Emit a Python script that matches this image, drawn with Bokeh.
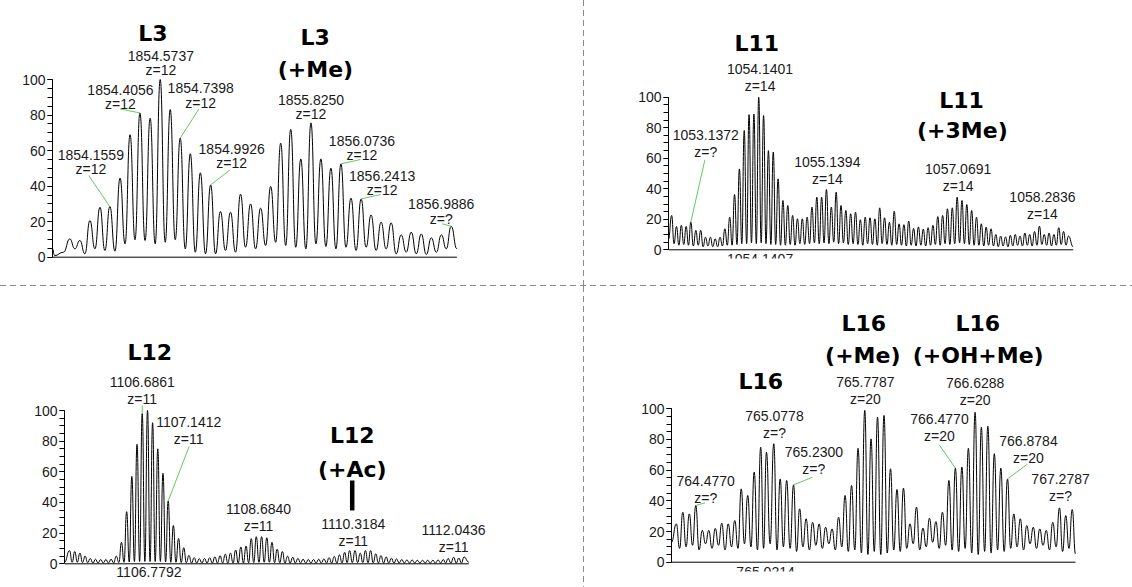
from bokeh.plotting import figure
from bokeh.layouts import column, row
from bokeh.models import Div, Range1d, FixedTicker
from bokeh.core.properties import value
from bokeh.embed import file_html
from bokeh.resources import INLINE

# ---------------- L3 peptide, z = 12 ----------------
l3_window = (1853.680, 1857.036)
l3_mz = [1853.8237, 1853.9070, 1853.9904, 1854.0737, 1854.1559, 1854.2404, 1854.3237, 1854.4056,
         1854.4904, 1854.5737, 1854.6570, 1854.7398, 1854.8237, 1854.9070, 1854.9926, 1855.0737,
         1855.1570, 1855.2404, 1855.3237, 1855.4070, 1855.4904, 1855.5737, 1855.6570, 1855.7404,
         1855.8250, 1855.9070, 1855.9904, 1856.0736, 1856.1570, 1856.2413, 1856.3237, 1856.4070,
         1856.4904, 1856.5737, 1856.6570, 1856.7404, 1856.8237, 1856.9070, 1856.9886]
l3_int = [10.3, 9.4, 20.6, 28.1, 28.5, 44.5, 68.9, 81.2, 78.2, 100.0,
          83.1, 67.0, 58.2, 47.5, 40.7, 25.7, 25.3, 35.5, 30.0, 27.6,
          39.8, 64.2, 71.9, 55.3, 75.6, 55.3, 50.1, 52.5, 33.2, 32.8,
          23.8, 19.7, 19.3, 12.6, 14.1, 13.1, 10.9, 12.6, 17.4]
l3_valley = [4.7, 1.9, 4.7, 3.8, 3.4, 7.5, 9.8, 9.4, 7.5, 8.4,
             9.8, 4.7, 2.8, 1.9, 1.9, 3.8, 2.8, 5.6, 4.7, 6.6,
             8.4, 6.6, 5.6, 4.7, 7.5, 6.0, 4.7, 5.6, 3.8, 5.6,
             3.8, 4.7, 1.9, 2.8, 1.9, 1.5, 2.8, 4.7]
l3_lead_mz = [1853.680, 1853.697, 1853.771]
l3_lead_int = [4.7, 0.9, 2.8]
l3_tail_mz = [1857.036]
l3_tail_int = [4.7]
l3_tags = [1854.1559, 1854.4056, 1854.5737, 1854.7398, 1854.9926,
           1855.8250, 1856.0736, 1856.2413, 1856.9886]
l3_charge = ["12", "12", "12", "12", "12", "12", "12", "12", "?"]

# ---------------- L11 peptide, z = 14 ----------------
l11_window = (1052.808, 1058.782)
l11_mz = [1052.8544, 1052.9258, 1052.9972, 1053.0687, 1053.1372, 1053.2115, 1053.2830, 1053.3544, 1053.4258, 1053.4972,
          1053.5687, 1053.6401, 1053.7115, 1053.7830, 1053.8544, 1053.9258, 1053.9972, 1054.0687, 1054.1401, 1054.2115,
          1054.2830, 1054.3544, 1054.4258, 1054.4972, 1054.5687, 1054.6401, 1054.7115, 1054.7830, 1054.8544, 1054.9258,
          1054.9972, 1055.0687, 1055.1394, 1055.2115, 1055.2830, 1055.3544, 1055.4258, 1055.4972, 1055.5687, 1055.6401,
          1055.7115, 1055.7830, 1055.8544, 1055.9258, 1055.9972, 1056.0687, 1056.1401, 1056.2115, 1056.2830, 1056.3544,
          1056.4258, 1056.4972, 1056.5687, 1056.6401, 1056.7115, 1056.7830, 1056.8544, 1056.9258, 1056.9972, 1057.0691,
          1057.1401, 1057.2115, 1057.2830, 1057.3544, 1057.4258, 1057.4972, 1057.5687, 1057.6401, 1057.7115, 1057.7830,
          1057.8544, 1057.9258, 1057.9972, 1058.0687, 1058.1401, 1058.2115, 1058.2836, 1058.3544, 1058.4258, 1058.4972,
          1058.5687, 1058.6401, 1058.7115]
l11_int = [22.5, 15.3, 16.0, 15.3, 18.1, 12.7, 12.7, 8.3, 8.3, 7.2,
           8.3, 13.8, 21.4, 36.2, 53.0, 78.2, 88.6, 89.0, 100.0, 88.0,
           65.0, 64.0, 46.5, 32.3, 29.0, 22.5, 20.3, 20.3, 21.4, 28.0,
           34.5, 34.5, 39.5, 28.0, 37.8, 29.0, 25.8, 23.6, 24.7, 19.7,
           21.4, 21.0, 20.3, 27.5, 21.0, 18.0, 25.3, 17.0, 16.5, 18.8,
           14.0, 15.0, 13.5, 14.5, 16.0, 21.8, 22.5, 26.9, 27.5, 34.5,
           32.3, 29.7, 25.8, 21.4, 17.0, 14.8, 13.8, 10.0, 9.0, 8.5,
           9.5, 10.0, 9.0, 11.0, 10.0, 12.0, 15.5, 10.0, 11.0, 10.0,
           14.5, 12.0, 9.0]
l11_valley = [4, 3, 3.5, 3, 2.5, 3, 2, 2.5, 2, 2,
              2.5, 3, 3, 3.5, 4, 4, 4.5, 4, 4.5, 4,
              3.5, 3.5, 3, 3, 3.5, 3, 4, 3.5, 4, 4.5,
              4, 4.5, 4, 5, 4, 4.5, 3.5, 4, 3.5, 3,
              4, 3.5, 3, 4, 3.5, 3, 3.5, 3, 2.5, 3,
              2.5, 3, 2.5, 3, 3.5, 3, 4, 3.5, 4, 4.5,
              4, 3.5, 3, 3, 2.5, 3, 2.5, 2, 2.5, 2,
              2.5, 3, 2.5, 3, 2.5, 3, 3.5, 3, 2.5, 3,
              3.5, 3]
l11_lead_mz = [1052.808]
l11_lead_int = [7.0]
l11_tail_mz = [1058.782]
l11_tail_int = [2.0]
l11_tags = [1053.1372, 1054.1401, 1055.1394, 1057.0691, 1058.2836]
l11_charge = ["?", "14", "14", "14", "14"]

# ---------------- L12 peptide, z = 11 ----------------
l12_window = (1105.325, 1112.406)
l12_mz = [1105.4134, 1105.5043, 1105.5952, 1105.6861, 1105.7770, 1105.8679, 1105.9588, 1106.0497, 1106.1406, 1106.2316,
          1106.3225, 1106.4134, 1106.5043, 1106.5952, 1106.6861, 1106.7792, 1106.8679, 1106.9588, 1107.0497, 1107.1412,
          1107.2316, 1107.3225, 1107.4134, 1107.5043, 1107.5952, 1107.6861, 1107.7770, 1107.8679, 1107.9588, 1108.0497,
          1108.1406, 1108.2316, 1108.3225, 1108.4134, 1108.5043, 1108.5952, 1108.6840, 1108.7770, 1108.8679, 1108.9588,
          1109.0497, 1109.1406, 1109.2316, 1109.3225, 1109.4134, 1109.5043, 1109.5952, 1109.6861, 1109.7770, 1109.8679,
          1109.9588, 1110.0497, 1110.1406, 1110.2316, 1110.3184, 1110.4134, 1110.5043, 1110.5952, 1110.6861, 1110.7770,
          1110.8679, 1110.9588, 1111.0497, 1111.1406, 1111.2316, 1111.3225, 1111.4134, 1111.5043, 1111.5952, 1111.6861,
          1111.7770, 1111.8679, 1111.9588, 1112.0436, 1112.1406, 1112.2316, 1112.3225]
l12_int = [8.6, 8.0, 7.0, 5.0, 3.5, 3.0, 2.8, 2.8, 3.0, 5.0,
           14.0, 34.0, 57.0, 78.0, 98.0, 100.0, 92.0, 75.0, 59.0, 41.0,
           25.0, 16.5, 10.5, 5.5, 4.0, 3.3, 3.5, 4.0, 4.5, 5.3,
           6.3, 7.0, 9.0, 11.0, 11.5, 16.5, 17.7, 17.7, 17.0, 14.0,
           9.5, 8.0, 5.0, 4.3, 3.5, 3.0, 2.8, 2.8, 3.0, 3.2,
           4.0, 4.8, 5.8, 7.5, 8.6, 8.6, 7.0, 8.6, 8.6, 6.5,
           5.4, 4.5, 3.7, 3.2, 2.8, 2.5, 2.5, 2.3, 2.3, 2.3,
           2.3, 2.5, 2.8, 3.5, 4.3, 3.8, 4.5]
l12_valley = [1.0, 1.0, 0.8, 0.7, 0.5, 0.5, 0.5, 0.5, 0.5, 0.8,
              1.0, 1.2, 1.5, 1.5, 1.5, 1.5, 1.5, 1.5, 1.2, 1.0,
              1.0, 0.8, 0.7, 0.5, 0.5, 0.5, 0.5, 0.5, 0.5, 0.5,
              0.5, 0.5, 0.5, 0.5, 0.7, 0.8, 1.0, 1.0, 1.0, 0.8,
              0.7, 0.5, 0.5, 0.5, 0.5, 0.5, 0.5, 0.5, 0.5, 0.5,
              0.5, 0.5, 0.6, 0.7, 0.8, 0.8, 0.8, 0.7, 0.6, 0.5,
              0.5, 0.5, 0.5, 0.5, 0.5, 0.5, 0.5, 0.5, 0.5, 0.5,
              0.5, 0.5, 0.5, 0.5, 0.5, 0.5]
l12_lead_mz = [1105.325]
l12_lead_int = [1.0]
l12_tail_mz = [1112.406]
l12_tail_int = [1.0]
l12_tags = [1106.6861, 1107.1412, 1108.6840, 1110.3184, 1112.0436]
l12_charge = ["11", "11", "11", "11", "11"]
l12_ac_mark = (1110.364, 34.8, 54.3)

# ---------------- L16 peptide, z = 20 ----------------
l16_window = (764.2898, 767.4023)
l16_mz = [764.3270, 764.3770, 764.4270, 764.4770, 764.5270, 764.5770, 764.6270, 764.6770, 764.7270, 764.7770,
          764.8270, 764.8770, 764.9270, 764.9770, 765.0214, 765.0778, 765.1270, 765.1770, 765.2300, 765.2770,
          765.3270, 765.3770, 765.4270, 765.4770, 765.5270, 765.5770, 765.6270, 765.6770, 765.7270, 765.7787,
          765.8270, 765.8770, 765.9270, 765.9770, 766.0270, 766.0770, 766.1270, 766.1770, 766.2270, 766.2770,
          766.3270, 766.3770, 766.4270, 766.4770, 766.5270, 766.5770, 766.6288, 766.6770, 766.7270, 766.7770,
          766.8270, 766.8784, 766.9270, 766.9770, 767.0270, 767.0770, 767.1270, 767.1770, 767.2270, 767.2787,
          767.3270, 767.3770]
l16_int = [25.0, 32.6, 31.5, 37.0, 20.7, 20.7, 22.0, 25.4, 25.0, 27.2,
           47.8, 43.5, 58.7, 75.0, 71.7, 77.2, 54.3, 53.3, 50.4, 34.8,
           28.3, 26.0, 25.0, 22.8, 21.7, 29.3, 43.5, 50.0, 74.3, 99.0,
           80.4, 94.6, 95.7, 60.9, 47.4, 48.3, 25.0, 35.9, 22.2, 28.7,
           26.5, 32.6, 53.3, 61.3, 62.0, 74.3, 97.8, 88.0, 88.7, 70.7,
           61.3, 54.3, 31.5, 28.3, 23.9, 22.8, 21.7, 20.7, 26.0, 35.4,
           30.4, 34.3]
l16_valley = [9, 10, 11, 8, 12, 9, 11, 8, 10, 9,
              12, 10, 8, 9, 12, 8, 10, 9, 7, 10,
              8, 11, 9, 12, 8, 10, 7, 8, 6, 5,
              7, 5, 6, 8, 7, 9, 12, 8, 10, 13,
              9, 11, 8, 7, 9, 6, 5, 7, 6, 8,
              7, 9, 10, 8, 12, 9, 11, 8, 10, 7,
              9]
l16_lead_mz = [764.2898]
l16_lead_int = [13.0]
l16_tail_mz = [767.4023]
l16_tail_int = [5.4]
l16_tags = [764.4770, 765.0778, 765.2300, 765.7787, 766.4770, 766.6288, 766.8784, 767.2787]
l16_charge = ["?", "?", "?", "20", "20", "20", "20", "?"]

# ---------------- styling ----------------
LABEL_FONT = "Liberation Sans"
LABEL_SIZE = "14px"
TICK_SIZE = "14px"
TITLE_FONT = "DejaVu Sans"
TITLE_SIZE = "22px"
TEXT_COLOR = "#1a1a1a"
LEADER_COLOR = "#62c962"
DASH_COLOR = "#8a8a8a"


def build_profile(lead_mz, lead_int, mz, inten, valley, tail_mz, tail_int):
    xs, ys = list(lead_mz), list(lead_int)
    for i, (m, v) in enumerate(zip(mz, inten)):
        xs.append(m)
        ys.append(v)
        if i < len(valley):
            xs.append((m + mz[i + 1]) / 2.0)
            ys.append(valley[i])
    xs += list(tail_mz)
    ys += list(tail_int)
    return xs, ys


def make_panel(frame, window, profile, peaks, tags, charges, tag_pos, line_gap,
               titles, bottom_tags=(), cut_px=None):
    # frame: cell width/height, left border, bottom border, px from frame
    # bottom to the baseline, px for 0..100 %, px length of the m/z axis
    w, h, left, bottom, base_px, h100, axis_len = frame
    lo, hi = window
    ppx = axis_len / (hi - lo)
    ppy = h100 / 100.0
    frame_w = w - left
    frame_h = h - bottom
    x_end = lo + frame_w / ppx
    y_start = -base_px / ppy
    p = figure(width=w, height=h,
               x_range=Range1d(lo, x_end),
               y_range=Range1d(y_start, (frame_h - base_px) / ppy),
               output_backend="svg", toolbar_location=None,
               x_axis_location=None, y_axis_location="left",
               min_border_left=left, min_border_right=0,
               min_border_top=0, min_border_bottom=bottom)
    p.grid.visible = False
    p.outline_line_color = None
    p.background_fill_color = "white"
    p.border_fill_color = "white"

    ax = p.yaxis[0]
    ax.ticker = FixedTicker(ticks=[0, 20, 40, 60, 80, 100],
                            minor_ticks=list(range(0, 101, 5)))
    ax.bounds = (0, 100)
    ax.axis_line_color = "black"
    ax.major_tick_line_color = "black"
    ax.minor_tick_line_color = "black"
    ax.major_tick_in = 0
    ax.major_tick_out = 5
    ax.minor_tick_in = 0
    ax.minor_tick_out = 5
    ax.major_label_standoff = 2
    ax.major_label_text_font = LABEL_FONT
    ax.major_label_text_font_size = TICK_SIZE
    ax.major_label_text_color = TEXT_COLOR

    # m/z axis line
    p.line([lo, hi], [0, 0], line_color="black", line_width=1)

    # profile trace, smooth between apex and valley points
    xs, ys = profile
    mids = [(a + b) / 2.0 for a, b in zip(xs[:-1], xs[1:])]
    p.bezier(x0=xs[:-1], y0=ys[:-1], x1=xs[1:], y1=ys[1:],
             cx0=mids, cy0=ys[:-1], cx1=mids, cy1=ys[1:],
             line_color="black", line_width=1)

    mz, inten = peaks
    tx, ty, t1, t2, dxs, dys, dys2 = [], [], [], [], [], [], []
    lx0, ly0, lx1, ly1 = [], [], [], []
    for tag, zc, pos in zip(tags, charges, tag_pos):
        v = inten[mz.index(tag)]
        dx, dy = pos[0], pos[1]
        tx.append(tag)
        ty.append(v)
        t1.append(f"{tag:.4f}")
        t2.append(f"z={zc}")
        dxs.append(dx)
        dys.append(dy)
        dys2.append(dy + line_gap)
        if len(pos) > 2:
            lx0.append(tag)
            ly0.append(v)
            lx1.append(tag + pos[2] / ppx)
            ly1.append(v - pos[3] / ppy)
    if lx0:
        p.segment(x0=lx0, y0=ly0, x1=lx1, y1=ly1, line_color=LEADER_COLOR, line_width=1)
    for txt, offs in ((t1, dys), (t2, dys2)):
        p.text(x=tx, y=ty, text=txt, x_offset=dxs, y_offset=offs,
               text_align="center", text_baseline="middle",
               text_font=value(LABEL_FONT), text_font_size=value(LABEL_SIZE),
               text_color=TEXT_COLOR)

    for tag, dx, dy in bottom_tags:
        p.text(x=[tag], y=[0], text=[f"{tag:.4f}"], x_offset=dx, y_offset=dy,
               text_align="center", text_baseline="middle",
               text_font=value(LABEL_FONT), text_font_size=value(LABEL_SIZE),
               text_color=TEXT_COLOR)

    # white band that trims the panel below the given px under the baseline
    if cut_px is not None:
        p.quad(left=[lo - 1], right=[x_end + 1], bottom=[y_start - 1], top=[-cut_px / ppy],
               fill_color="white", line_color=None, level="overlay")

    for txt, x, y in titles:
        p.text(x=[x], y=[y], text=[txt], text_align="center",
               text_baseline="alphabetic", text_font=value(TITLE_FONT),
               text_font_size=value(TITLE_SIZE), text_font_style="bold",
               text_color="black")
    return p


# L3 panel
p1 = make_panel(
    (583, 285, 52, 27, 1.3, 177.7, 404.4), l3_window,
    build_profile(l3_lead_mz, l3_lead_int, l3_mz, l3_int, l3_valley, l3_tail_mz, l3_tail_int),
    (l3_mz, l3_int), l3_tags, l3_charge,
    [(-19, -52, -21, -31), (-19.5, -23, -20, -4), (0.7, -24), (20.5, -50, 18.5, -29),
     (21, -36, 19.4, -15), (0, -23), (21, -23.4, 19.4, -4.4), (21, -23.4, 19.4, -4.4),
     (-10, -22, -9.2, -2.5)],
    14.5,
    [("L3", 1854.5139, 126.0), ("L3", 1855.8600, 123.8), ("(+Me)", 1855.8625, 105.8)])

# L11 panel
p2 = make_panel(
    (548, 285, 84, 27, 8.7, 152.6, 404.7), l11_window,
    build_profile(l11_lead_mz, l11_lead_int, l11_mz, l11_int, l11_valley, l11_tail_mz, l11_tail_int),
    (l11_mz, l11_int), l11_tags, l11_charge,
    [(15, -86.7, 14.1, -62.4), (1.3, -28.4), (0.9, -28), (1, -28.4), (3, -29)],
    17,
    [("L11", 1054.1106, 135.0), ("L11", 1057.1342, 97.8), ("(+3Me)", 1057.1460, 78.0)],
    bottom_tags=[(1054.1407, 1.3, 9.2)])

# L12 panel
p3 = make_panel(
    (583, 301, 64, 0, 23.7, 153.3, 404.3), l12_window,
    build_profile(l12_lead_mz, l12_lead_int, l12_mz, l12_int, l12_valley, l12_tail_mz, l12_tail_int),
    (l12_mz, l12_int), l12_tags, l12_charge,
    [(0, -31.3, 0, -8), (20.5, -78.7, 20.9, -54.4), (2.2, -27.9), (3.7, -26.8), (5.5, -28.7)],
    17,
    [("L12", 1106.8174, 137.6), ("L12", 1110.3638, 83.6), ("(+Ac)", 1110.3640, 61.7)],
    bottom_tags=[(1106.7792, 1.4, 8.4)])
p3.segment(x0=[l12_ac_mark[0]], y0=[l12_ac_mark[1]], x1=[l12_ac_mark[0]], y1=[l12_ac_mark[2]],
           line_color="black", line_width=4.5)

# L16 panel
p4 = make_panel(
    (548, 301, 87, 0, 25.3, 153.4, 404.0), l16_window,
    build_profile(l16_lead_mz, l16_lead_int, l16_mz, l16_int, l16_valley, l16_tail_mz, l16_tail_int),
    (l16_mz, l16_int), l16_tags, l16_charge,
    [(9.9, -24, 9.2, -2.6), (0.7, -27.3), (20.3, -32.7, 18.9, -7.7), (0.6, -28),
     (-15.9, -48.7, -16.2, -23.4), (0, -29), (21, -37.7, 19.4, -14.4), (1.1, -29)],
    17,
    [("L16", 764.9770, 118.0), ("L16", 765.7705, 155.4), ("(+Me)", 765.7636, 134.6),
     ("L16", 766.6488, 155.4), ("(+OH+Me)", 766.6526, 134.6)],
    bottom_tags=[(765.0214, -0.9, 9.5)], cut_px=9.3)

# dashed separators between the four panels
v_dash = "repeating-linear-gradient(to bottom, %s 0px, %s 6px, transparent 6px, transparent 10px)" % (DASH_COLOR, DASH_COLOR)
h_dash = "repeating-linear-gradient(to right, %s 0px, %s 6px, transparent 6px, transparent 10px)" % (DASH_COLOR, DASH_COLOR)
sep_top = Div(text="", width=1, height=285, margin=0, styles={"background": v_dash})
sep_mid = Div(text="", width=1132, height=1, margin=0, styles={"background": h_dash})
sep_bot = Div(text="", width=1, height=301, margin=0, styles={"background": v_dash})

layout = column(row(p1, sep_top, p2, spacing=0), sep_mid, row(p3, sep_bot, p4, spacing=0), spacing=0)

open("out.html", "w").write(file_html(layout, INLINE))
